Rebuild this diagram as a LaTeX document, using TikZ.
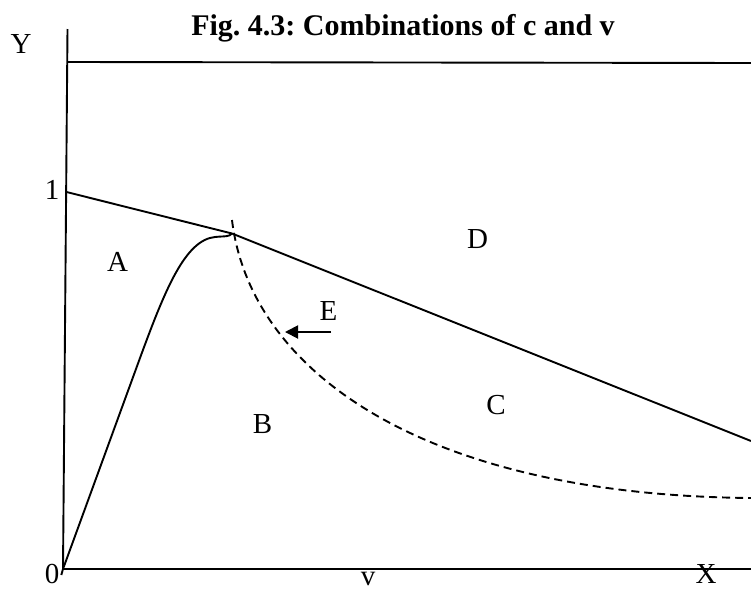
\documentclass[tikz,border=0pt]{standalone}
\usepackage{fontspec}
\setmainfont{Liberation Serif}
\usetikzlibrary{arrows.meta}
\frenchspacing
\begin{document}
\begin{tikzpicture}[x=1pt,y=-1pt,line width=1.9pt,
  lbl/.style={anchor=base,inner sep=0pt,font=\fontsize{29}{34}\selectfont},
  ttl/.style={anchor=base,inner sep=0pt,font=\fontsize{30}{36}\selectfont\bfseries},
  dsh/.style={dash pattern=on 8pt off 5pt},
  arr/.style={-{Triangle[length=13pt,width=13pt]}}]
\useasboundingbox (0,0) rectangle (751,592);
% key points
\coordinate (ytop) at (67.5,29);
\coordinate (o) at (63,569);
\coordinate (xend) at (751,569);
\coordinate (tl) at (67.8,62);
\coordinate (tr) at (751,63);
\coordinate (one) at (66.5,192);
\coordinate (k) at (232,233.5);
\coordinate (rend) at (751,441);
\coordinate (tail) at (61.3,575);
\coordinate (m) at (140,358);
\coordinate (p) at (215,237);
\coordinate (ds) at (232,220);
\coordinate (de) at (751,498);
\coordinate (ea) at (331,332);
\coordinate (eb) at (285,332);
% axes
\draw (ytop) -- (o) -- (xend);
\draw (tl) -- (tr);
% budget line
\draw (one) -- (k) -- (rend);
% curve from origin
\draw (tail) -- (o) -- (m) .. controls (165,290) and (185,240) .. (p)
      .. controls (225,236) and (229,237) .. (k);
% dashed curve
\draw[dsh] (ds) .. controls (250,370) and (420,495) .. (de);
% arrow E
\draw[arr] (ea) -- (eb);
% labels
\node[ttl] (title) at (403,35) {Fig. 4.3: Combinations of c and v};
\node[lbl] (Y) at (21,53) {Y};
\node[lbl] (l1) at (52,199) {1};
\node[lbl] (l0) at (52,583) {0};
\node[lbl] (X) at (706,583) {X};
\node[lbl] (v) at (368,585) {v};
\node[lbl] (A) at (117.5,271) {A};
\node[lbl] (B) at (262.5,433) {B};
\node[lbl] (C) at (496,414.5) {C};
\node[lbl] (D) at (477.5,248) {D};
\node[lbl] (E) at (328.5,320) {E};
\end{tikzpicture}
\end{document}
